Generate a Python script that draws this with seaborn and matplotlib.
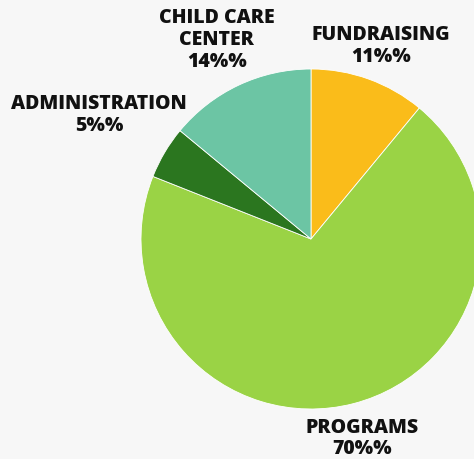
import numpy as np
import matplotlib
matplotlib.use("Agg")
import matplotlib.pyplot as plt
import seaborn as sns

# --- data ---
categories = ["FUNDRAISING", "PROGRAMS", "ADMINISTRATION", "CHILD CARE\nCENTER"]
shares = [11, 70, 5, 14]
colors = ["#FABC1A", "#9AD345", "#2B761F", "#6CC5A4"]
# label distance from the centre, in pixels
label_dist = [206, 205, 246, 221]

sns.set_theme(style="white")
plt.rcParams["font.family"] = ["Open Sans", "DejaVu Sans"]

fig = plt.figure(figsize=(4.74, 4.60), dpi=100)
fig.patch.set_facecolor("#F7F7F7")
ax = fig.add_axes([0, 0, 1, 1])
ax.set_facecolor("#F7F7F7")

cx, cy, r = 311, 220, 170
wedges, _ = ax.pie(shares, colors=colors, startangle=90, counterclock=False,
                   center=(cx, cy), radius=r, frame=True,
                   wedgeprops=dict(edgecolor="white", linewidth=0.6))
ax.set_xlim(0, 474)
ax.set_ylim(0, 460)
ax.set_aspect("equal")
ax.axis("off")

for w, name, pct, d in zip(wedges, categories, shares, label_dist):
    mid = np.deg2rad((w.theta1 + w.theta2) / 2)
    x = cx + d * np.cos(mid)
    y = cy + d * np.sin(mid)
    ax.text(x, y, f"{name}\n{pct}%%", ha="center", va="center",
            fontsize=14, fontweight=800, color="#111111", linespacing=1.12)

fig.savefig("out.png", dpi=100, facecolor=fig.get_facecolor())
